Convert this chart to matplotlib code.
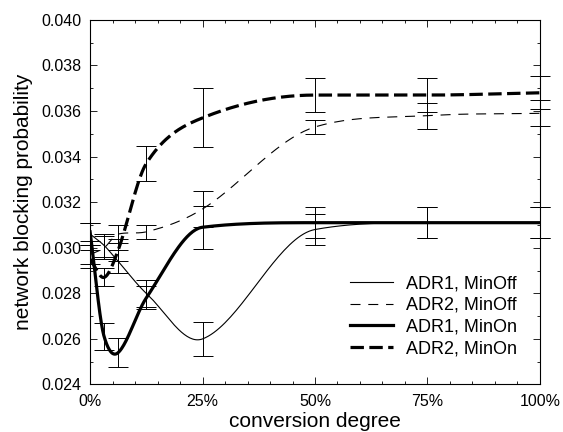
import matplotlib

matplotlib.use("Agg")
import matplotlib.pyplot as plt
import numpy as np
from matplotlib.ticker import FuncFormatter, MultipleLocator

plt.rcParams["font.family"] = ["Liberation Sans", "DejaVu Sans"]

# conversion degree (%) at which the simulations were run
conversion = [0, 3.125, 6.25, 12.5, 25, 50, 75, 100]

adr1_minoff = [0.0306, 0.0301, 0.0294, 0.0280, 0.0260, 0.0308, 0.0311, 0.0311]
adr1_minoff_err = [0.0005, 0.0005, 0.0005, 0.0006, 0.00073, 0.00066, 0.00068, 0.00069]

adr2_minoff = [0.0297, 0.0300, 0.0306, 0.0307, 0.0317, 0.0353, 0.0358, 0.0359]
adr2_minoff_err = [0.0004, 0.0005, 0.0004, 0.0003, 0.00078, 0.00032, 0.00057, 0.00057]

adr1_minon = [0.0307, 0.0261, 0.0254, 0.0278, 0.0309, 0.0311, 0.0311, 0.0311]
adr1_minon_err = [0.0004, 0.0006, 0.00065, 0.0005, 0.00094, 0.00068, 0.00068, 0.00069]

adr2_minon = [0.0295, 0.0287, 0.0299, 0.0337, 0.0357, 0.0367, 0.0367, 0.0368]
adr2_minon_err = [0.0004, 0.0004, 0.0005, 0.00077, 0.0013, 0.00073, 0.00073, 0.00073]


def smooth_curve(x, y, per_segment=40):
    # cubic Hermite through the points; central-difference tangents,
    # capped where both neighbouring segments run the same way
    x = np.asarray(x, dtype=float)
    y = np.asarray(y, dtype=float)
    n = len(x)
    d = np.diff(y) / np.diff(x)
    m = np.empty(n)
    m[0] = d[0]
    m[-1] = d[-1]
    for i in range(1, n - 1):
        m[i] = (y[i + 1] - y[i - 1]) / (x[i + 1] - x[i - 1])
        if d[i - 1] * d[i] > 0:
            cap = 3 * min(abs(d[i - 1]), abs(d[i]))
            m[i] = np.sign(m[i]) * min(abs(m[i]), cap)
        elif d[i - 1] == 0 or d[i] == 0:
            m[i] = 0.0
    xs, ys = [], []
    for i in range(n - 1):
        h = x[i + 1] - x[i]
        t = np.linspace(0, 1, per_segment, endpoint=(i == n - 2))
        h00 = 2 * t**3 - 3 * t**2 + 1
        h10 = t**3 - 2 * t**2 + t
        h01 = -2 * t**3 + 3 * t**2
        h11 = t**3 - t**2
        xs.append(x[i] + t * h)
        ys.append(h00 * y[i] + h10 * h * m[i] + h01 * y[i + 1] + h11 * h * m[i + 1])
    return np.concatenate(xs), np.concatenate(ys)


series = [
    ("ADR1, MinOff", adr1_minoff, adr1_minoff_err, 0.8, "-"),
    ("ADR2, MinOff", adr2_minoff, adr2_minoff_err, 0.8, (0, (9, 7))),
    ("ADR1, MinOn", adr1_minon, adr1_minon_err, 2.3, "-"),
    ("ADR2, MinOn", adr2_minon, adr2_minon_err, 2.3, (0, (4.2, 1.7))),
]

fig = plt.figure(figsize=(5.63, 4.32), dpi=100)
ax = fig.add_axes([0.160, 0.110, 0.799, 0.844])

for label, values, errors, lw, ls in series:
    xs, ys = smooth_curve(conversion, values)
    ax.plot(xs, ys, color="black", lw=lw, ls=ls, label=label)
    ax.errorbar(
        conversion,
        values,
        yerr=errors,
        fmt="none",
        ecolor="black",
        elinewidth=0.7,
        capsize=7,
        capthick=0.7,
        clip_on=False,
    )

ax.set_xlim(0, 100)
ax.set_ylim(0.024, 0.040)
ax.xaxis.set_major_locator(MultipleLocator(25))
ax.xaxis.set_minor_locator(MultipleLocator(5))
ax.yaxis.set_major_locator(MultipleLocator(0.002))
ax.yaxis.set_minor_locator(MultipleLocator(0.001))
ax.xaxis.set_major_formatter(FuncFormatter(lambda v, _: f"{v:.0f}%"))
ax.yaxis.set_major_formatter(FuncFormatter(lambda v, _: f"{v:.3f}"))
ax.tick_params(which="both", direction="in", top=True, right=True, width=0.6)
ax.tick_params(which="major", length=5, labelsize=11.5)
ax.tick_params(which="minor", length=2.5)
ax.tick_params(axis="x", which="major", pad=7)
ax.tick_params(axis="y", which="major", pad=6)
for spine in ax.spines.values():
    spine.set_linewidth(0.8)

ax.set_xlabel("conversion degree", fontsize=15, labelpad=2)
ax.set_ylabel("network blocking probability", fontsize=15, labelpad=6)

ax.legend(
    loc="lower right",
    bbox_to_anchor=(0.985, 0.03),
    frameon=False,
    fontsize=13,
    handlelength=2.4,
    handletextpad=0.7,
    labelspacing=0.26,
)

fig.savefig("out.png", dpi=100)
